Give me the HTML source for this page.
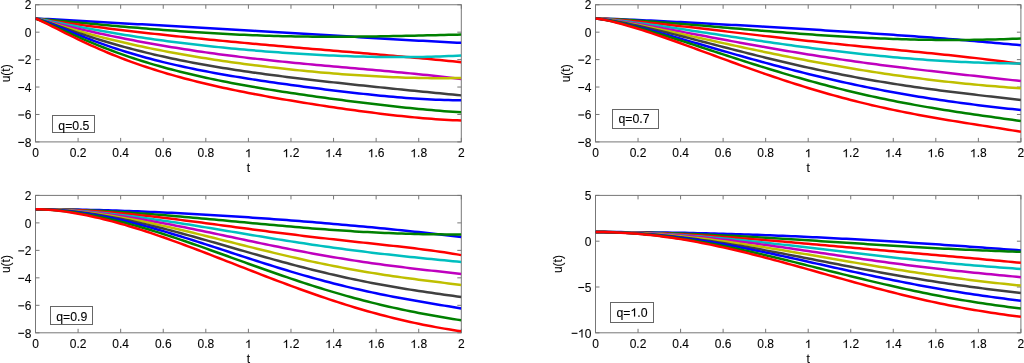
<!DOCTYPE html>
<html><head><meta charset="utf-8"><style>
html,body{margin:0;padding:0;background:#fff;}
svg{display:block;will-change:transform;}
text{font-family:"Liberation Sans",sans-serif;font-size:12px;fill:#000;stroke:#000;stroke-width:0.1px;}
.one{stroke:#000;stroke-width:17px;}
</style></head><body>
<svg width="1024" height="363" viewBox="0 0 1024 363">
<clipPath id="clipA"><rect x="35.5" y="4.75" width="425.8" height="137.15"/></clipPath>
<rect x="35.5" y="4.75" width="425.8" height="137.15" fill="none" stroke="#777777" stroke-width="1"/>
<path d="M35.5,141.9v-4M35.5,4.75v4M78.08,141.9v-4M78.08,4.75v4M120.66,141.9v-4M120.66,4.75v4M163.24,141.9v-4M163.24,4.75v4M205.82,141.9v-4M205.82,4.75v4M248.4,141.9v-4M248.4,4.75v4M290.98,141.9v-4M290.98,4.75v4M333.56,141.9v-4M333.56,4.75v4M376.14,141.9v-4M376.14,4.75v4M418.72,141.9v-4M418.72,4.75v4M461.3,141.9v-4M461.3,4.75v4M35.5,4.75h4M461.3,4.75h-4M35.5,32.18h4M461.3,32.18h-4M35.5,59.61h4M461.3,59.61h-4M35.5,87.04h4M461.3,87.04h-4M35.5,114.47h4M461.3,114.47h-4M35.5,141.9h4M461.3,141.9h-4" stroke="#777777" stroke-width="1" fill="none"/>
<g clip-path="url(#clipA)" fill="none" stroke-width="2.5" stroke-linejoin="round" stroke-linecap="butt">
<path d="M35.5,18.47 39.76,18.66 44.02,18.88 48.27,19.1 52.53,19.33 56.79,19.56 61.05,19.8 65.31,20.04 69.56,20.28 73.82,20.52 78.08,20.76 82.34,21 86.6,21.24 90.85,21.48 95.11,21.73 99.37,21.97 103.63,22.21 107.89,22.45 112.14,22.69 116.4,22.93 120.66,23.17 124.92,23.41 129.18,23.65 133.43,23.89 137.69,24.13 141.95,24.37 146.21,24.61 150.47,24.84 154.72,25.08 158.98,25.32 163.24,25.56 167.5,25.8 171.76,26.04 176.01,26.28 180.27,26.52 184.53,26.76 188.79,27 193.05,27.25 197.3,27.49 201.56,27.73 205.82,27.97 210.08,28.22 214.34,28.46 218.59,28.71 222.85,28.95 227.11,29.2 231.37,29.45 235.63,29.7 239.88,29.94 244.14,30.19 248.4,30.44 252.66,30.69 256.92,30.95 261.17,31.2 265.43,31.45 269.69,31.71 273.95,31.96 278.21,32.21 282.46,32.47 286.72,32.73 290.98,32.98 295.24,33.24 299.5,33.5 303.75,33.76 308.01,34.02 312.27,34.27 316.53,34.53 320.79,34.79 325.04,35.05 329.3,35.31 333.56,35.57 337.82,35.83 342.08,36.09 346.33,36.35 350.59,36.61 354.85,36.87 359.11,37.13 363.37,37.39 367.62,37.64 371.88,37.9 376.14,38.15 380.4,38.41 384.66,38.66 388.91,38.91 393.17,39.16 397.43,39.41 401.69,39.66 405.95,39.9 410.2,40.15 414.46,40.39 418.72,40.63 422.98,40.86 427.24,41.1 431.49,41.33 435.75,41.56 440.01,41.78 444.27,42 448.53,42.22 452.78,42.43 457.04,42.64 461.3,42.85" stroke="#0000ff"/>
<path d="M35.5,18.47 39.76,18.92 44.02,19.34 48.27,19.76 52.53,20.16 56.79,20.57 61.05,20.97 65.31,21.36 69.56,21.76 73.82,22.16 78.08,22.55 82.34,22.94 86.6,23.33 90.85,23.72 95.11,24.11 99.37,24.5 103.63,24.88 107.89,25.26 112.14,25.64 116.4,26.02 120.66,26.39 124.92,26.76 129.18,27.13 133.43,27.5 137.69,27.85 141.95,28.21 146.21,28.56 150.47,28.91 154.72,29.25 158.98,29.58 163.24,29.91 167.5,30.24 171.76,30.56 176.01,30.87 180.27,31.17 184.53,31.47 188.79,31.77 193.05,32.05 197.3,32.33 201.56,32.6 205.82,32.86 210.08,33.11 214.34,33.36 218.59,33.6 222.85,33.83 227.11,34.05 231.37,34.26 235.63,34.47 239.88,34.66 244.14,34.85 248.4,35.03 252.66,35.2 256.92,35.36 261.17,35.51 265.43,35.66 269.69,35.79 273.95,35.91 278.21,36.03 282.46,36.14 286.72,36.23 290.98,36.32 295.24,36.4 299.5,36.47 303.75,36.54 308.01,36.59 312.27,36.64 316.53,36.67 320.79,36.7 325.04,36.72 329.3,36.74 333.56,36.74 337.82,36.74 342.08,36.73 346.33,36.71 350.59,36.69 354.85,36.66 359.11,36.62 363.37,36.57 367.62,36.52 371.88,36.47 376.14,36.41 380.4,36.34 384.66,36.27 388.91,36.19 393.17,36.11 397.43,36.02 401.69,35.94 405.95,35.84 410.2,35.75 414.46,35.65 418.72,35.55 422.98,35.45 427.24,35.35 431.49,35.24 435.75,35.14 440.01,35.04 444.27,34.93 448.53,34.83 452.78,34.73 457.04,34.63 461.3,34.54" stroke="#008000"/>
<path d="M35.5,18.47 39.76,19.13 44.02,19.78 48.27,20.41 52.53,21.03 56.79,21.64 61.05,22.24 65.31,22.83 69.56,23.42 73.82,24 78.08,24.57 82.34,25.13 86.6,25.69 90.85,26.24 95.11,26.79 99.37,27.33 103.63,27.86 107.89,28.39 112.14,28.92 116.4,29.43 120.66,29.95 124.92,30.45 129.18,30.96 133.43,31.45 137.69,31.95 141.95,32.44 146.21,32.92 150.47,33.4 154.72,33.87 158.98,34.34 163.24,34.8 167.5,35.26 171.76,35.72 176.01,36.17 180.27,36.62 184.53,37.06 188.79,37.5 193.05,37.94 197.3,38.37 201.56,38.8 205.82,39.22 210.08,39.64 214.34,40.06 218.59,40.47 222.85,40.88 227.11,41.29 231.37,41.69 235.63,42.09 239.88,42.49 244.14,42.88 248.4,43.27 252.66,43.66 256.92,44.05 261.17,44.43 265.43,44.81 269.69,45.19 273.95,45.57 278.21,45.94 282.46,46.31 286.72,46.68 290.98,47.05 295.24,47.42 299.5,47.78 303.75,48.15 308.01,48.51 312.27,48.88 316.53,49.24 320.79,49.6 325.04,49.96 329.3,50.32 333.56,50.68 337.82,51.04 342.08,51.39 346.33,51.75 350.59,52.11 354.85,52.47 359.11,52.84 363.37,53.2 367.62,53.56 371.88,53.93 376.14,54.29 380.4,54.66 384.66,55.03 388.91,55.4 393.17,55.77 397.43,56.15 401.69,56.53 405.95,56.91 410.2,57.29 414.46,57.68 418.72,58.07 422.98,58.47 427.24,58.86 431.49,59.27 435.75,59.67 440.01,60.09 444.27,60.5 448.53,60.92 452.78,61.35 457.04,61.78 461.3,62.22" stroke="#ff0000"/>
<path d="M35.5,18.47 39.76,19.18 44.02,19.97 48.27,20.79 52.53,21.62 56.79,22.46 61.05,23.3 65.31,24.14 69.56,24.97 73.82,25.8 78.08,26.62 82.34,27.43 86.6,28.23 90.85,29.02 95.11,29.79 99.37,30.56 103.63,31.31 107.89,32.05 112.14,32.78 116.4,33.5 120.66,34.2 124.92,34.9 129.18,35.58 133.43,36.24 137.69,36.9 141.95,37.54 146.21,38.17 150.47,38.79 154.72,39.39 158.98,39.98 163.24,40.57 167.5,41.14 171.76,41.7 176.01,42.24 180.27,42.78 184.53,43.31 188.79,43.82 193.05,44.33 197.3,44.82 201.56,45.3 205.82,45.78 210.08,46.24 214.34,46.69 218.59,47.13 222.85,47.57 227.11,47.99 231.37,48.41 235.63,48.81 239.88,49.21 244.14,49.59 248.4,49.97 252.66,50.34 256.92,50.69 261.17,51.04 265.43,51.38 269.69,51.72 273.95,52.04 278.21,52.35 282.46,52.66 286.72,52.95 290.98,53.24 295.24,53.51 299.5,53.78 303.75,54.04 308.01,54.29 312.27,54.53 316.53,54.76 320.79,54.98 325.04,55.19 329.3,55.39 333.56,55.58 337.82,55.76 342.08,55.93 346.33,56.09 350.59,56.24 354.85,56.38 359.11,56.51 363.37,56.62 367.62,56.73 371.88,56.82 376.14,56.9 380.4,56.97 384.66,57.02 388.91,57.06 393.17,57.09 397.43,57.11 401.69,57.11 405.95,57.1 410.2,57.07 414.46,57.02 418.72,56.97 422.98,56.89 427.24,56.8 431.49,56.69 435.75,56.57 440.01,56.43 444.27,56.27 448.53,56.09 452.78,55.89 457.04,55.68 461.3,55.44" stroke="#00bfbf"/>
<path d="M35.5,18.47 39.76,19.53 44.02,20.59 48.27,21.64 52.53,22.68 56.79,23.72 61.05,24.74 65.31,25.75 69.56,26.75 73.82,27.74 78.08,28.72 82.34,29.68 86.6,30.64 90.85,31.58 95.11,32.51 99.37,33.43 103.63,34.34 107.89,35.24 112.14,36.12 116.4,36.99 120.66,37.85 124.92,38.69 129.18,39.52 133.43,40.34 137.69,41.15 141.95,41.94 146.21,42.73 150.47,43.5 154.72,44.25 158.98,45 163.24,45.73 167.5,46.45 171.76,47.15 176.01,47.85 180.27,48.53 184.53,49.2 188.79,49.86 193.05,50.51 197.3,51.14 201.56,51.76 205.82,52.37 210.08,52.97 214.34,53.56 218.59,54.14 222.85,54.71 227.11,55.26 231.37,55.81 235.63,56.34 239.88,56.87 244.14,57.38 248.4,57.89 252.66,58.39 256.92,58.87 261.17,59.35 265.43,59.82 269.69,60.29 273.95,60.74 278.21,61.19 282.46,61.63 286.72,62.06 290.98,62.48 295.24,62.9 299.5,63.32 303.75,63.72 308.01,64.13 312.27,64.53 316.53,64.92 320.79,65.31 325.04,65.69 329.3,66.08 333.56,66.46 337.82,66.83 342.08,67.21 346.33,67.58 350.59,67.96 354.85,68.33 359.11,68.7 363.37,69.08 367.62,69.45 371.88,69.83 376.14,70.2 380.4,70.58 384.66,70.97 388.91,71.36 393.17,71.75 397.43,72.14 401.69,72.55 405.95,72.95 410.2,73.37 414.46,73.79 418.72,74.22 422.98,74.66 427.24,75.1 431.49,75.56 435.75,76.03 440.01,76.5 444.27,76.99 448.53,77.5 452.78,78.01 457.04,78.54 461.3,79.08" stroke="#bf00bf"/>
<path d="M35.5,18.47 39.76,19.66 44.02,20.92 48.27,22.19 52.53,23.46 56.79,24.73 61.05,25.99 65.31,27.23 69.56,28.46 73.82,29.68 78.08,30.88 82.34,32.06 86.6,33.22 90.85,34.36 95.11,35.49 99.37,36.59 103.63,37.67 107.89,38.74 112.14,39.78 116.4,40.81 120.66,41.82 124.92,42.8 129.18,43.77 133.43,44.72 137.69,45.66 141.95,46.57 146.21,47.47 150.47,48.35 154.72,49.21 158.98,50.06 163.24,50.89 167.5,51.7 171.76,52.5 176.01,53.28 180.27,54.05 184.53,54.8 188.79,55.54 193.05,56.26 197.3,56.97 201.56,57.67 205.82,58.35 210.08,59.02 214.34,59.67 218.59,60.32 222.85,60.95 227.11,61.57 231.37,62.17 235.63,62.77 239.88,63.35 244.14,63.92 248.4,64.48 252.66,65.03 256.92,65.57 261.17,66.1 265.43,66.61 269.69,67.12 273.95,67.61 278.21,68.1 282.46,68.57 286.72,69.04 290.98,69.49 295.24,69.94 299.5,70.37 303.75,70.79 308.01,71.21 312.27,71.61 316.53,72 320.79,72.38 325.04,72.76 329.3,73.12 333.56,73.47 337.82,73.81 342.08,74.14 346.33,74.45 350.59,74.76 354.85,75.06 359.11,75.34 363.37,75.61 367.62,75.87 371.88,76.12 376.14,76.36 380.4,76.58 384.66,76.79 388.91,76.99 393.17,77.17 397.43,77.34 401.69,77.49 405.95,77.63 410.2,77.76 414.46,77.87 418.72,77.97 422.98,78.05 427.24,78.11 431.49,78.15 435.75,78.18 440.01,78.19 444.27,78.18 448.53,78.16 452.78,78.11 457.04,78.04 461.3,77.96" stroke="#bfbf00"/>
<path d="M35.5,18.47 39.76,19.7 44.02,21.09 48.27,22.53 52.53,24 56.79,25.49 61.05,26.97 65.31,28.46 69.56,29.93 73.82,31.39 78.08,32.83 82.34,34.25 86.6,35.65 90.85,37.02 95.11,38.37 99.37,39.7 103.63,41.01 107.89,42.28 112.14,43.54 116.4,44.76 120.66,45.96 124.92,47.14 129.18,48.29 133.43,49.41 137.69,50.51 141.95,51.58 146.21,52.63 150.47,53.66 154.72,54.66 158.98,55.64 163.24,56.59 167.5,57.53 171.76,58.44 176.01,59.33 180.27,60.2 184.53,61.05 188.79,61.88 193.05,62.7 197.3,63.49 201.56,64.27 205.82,65.03 210.08,65.77 214.34,66.5 218.59,67.21 222.85,67.9 227.11,68.59 231.37,69.25 235.63,69.91 239.88,70.55 244.14,71.18 248.4,71.8 252.66,72.41 256.92,73 261.17,73.59 265.43,74.16 269.69,74.73 273.95,75.29 278.21,75.84 282.46,76.38 286.72,76.91 290.98,77.44 295.24,77.96 299.5,78.47 303.75,78.98 308.01,79.48 312.27,79.97 316.53,80.47 320.79,80.95 325.04,81.43 329.3,81.91 333.56,82.38 337.82,82.85 342.08,83.32 346.33,83.78 350.59,84.24 354.85,84.7 359.11,85.15 363.37,85.6 367.62,86.05 371.88,86.5 376.14,86.94 380.4,87.38 384.66,87.82 388.91,88.26 393.17,88.7 397.43,89.13 401.69,89.56 405.95,89.99 410.2,90.42 414.46,90.85 418.72,91.27 422.98,91.69 427.24,92.11 431.49,92.53 435.75,92.94 440.01,93.36 444.27,93.77 448.53,94.17 452.78,94.58 457.04,94.98 461.3,95.37" stroke="#404040"/>
<path d="M35.5,18.47 39.76,19.66 44.02,21.14 48.27,22.76 52.53,24.44 56.79,26.16 61.05,27.9 65.31,29.64 69.56,31.37 73.82,33.09 78.08,34.79 82.34,36.47 86.6,38.11 90.85,39.73 95.11,41.32 99.37,42.87 103.63,44.39 107.89,45.88 112.14,47.32 116.4,48.74 120.66,50.12 124.92,51.46 129.18,52.77 133.43,54.05 137.69,55.29 141.95,56.5 146.21,57.68 150.47,58.83 154.72,59.95 158.98,61.03 163.24,62.09 167.5,63.12 171.76,64.13 176.01,65.11 180.27,66.06 184.53,66.99 188.79,67.9 193.05,68.79 197.3,69.65 201.56,70.49 205.82,71.32 210.08,72.13 214.34,72.91 218.59,73.69 222.85,74.44 227.11,75.18 231.37,75.91 235.63,76.63 239.88,77.33 244.14,78.01 248.4,78.69 252.66,79.36 256.92,80.01 261.17,80.66 265.43,81.29 269.69,81.92 273.95,82.54 278.21,83.15 282.46,83.75 286.72,84.35 290.98,84.93 295.24,85.51 299.5,86.09 303.75,86.66 308.01,87.22 312.27,87.77 316.53,88.32 320.79,88.86 325.04,89.4 329.3,89.93 333.56,90.45 337.82,90.96 342.08,91.47 346.33,91.97 350.59,92.46 354.85,92.94 359.11,93.42 363.37,93.88 367.62,94.34 371.88,94.79 376.14,95.22 380.4,95.64 384.66,96.06 388.91,96.45 393.17,96.84 397.43,97.21 401.69,97.56 405.95,97.9 410.2,98.22 414.46,98.52 418.72,98.8 422.98,99.06 427.24,99.3 431.49,99.52 435.75,99.71 440.01,99.87 444.27,100.01 448.53,100.12 452.78,100.2 457.04,100.25 461.3,100.26" stroke="#0000ff"/>
<path d="M35.5,18.47 39.76,20 44.02,21.76 48.27,23.62 52.53,25.52 56.79,27.44 61.05,29.37 65.31,31.3 69.56,33.21 73.82,35.1 78.08,36.97 82.34,38.81 86.6,40.62 90.85,42.4 95.11,44.14 99.37,45.85 103.63,47.52 107.89,49.16 112.14,50.76 116.4,52.33 120.66,53.85 124.92,55.35 129.18,56.81 133.43,58.23 137.69,59.62 141.95,60.97 146.21,62.29 150.47,63.58 154.72,64.83 158.98,66.06 163.24,67.25 167.5,68.42 171.76,69.55 176.01,70.66 180.27,71.74 184.53,72.8 188.79,73.83 193.05,74.83 197.3,75.81 201.56,76.77 205.82,77.71 210.08,78.62 214.34,79.52 218.59,80.39 222.85,81.25 227.11,82.09 231.37,82.91 235.63,83.71 239.88,84.5 244.14,85.27 248.4,86.03 252.66,86.78 256.92,87.51 261.17,88.23 265.43,88.93 269.69,89.63 273.95,90.31 278.21,90.99 282.46,91.65 286.72,92.31 290.98,92.95 295.24,93.59 299.5,94.22 303.75,94.84 308.01,95.45 312.27,96.06 316.53,96.65 320.79,97.25 325.04,97.83 329.3,98.41 333.56,98.98 337.82,99.54 342.08,100.1 346.33,100.65 350.59,101.2 354.85,101.74 359.11,102.27 363.37,102.79 367.62,103.31 371.88,103.82 376.14,104.33 380.4,104.83 384.66,105.32 388.91,105.8 393.17,106.27 397.43,106.74 401.69,107.19 405.95,107.64 410.2,108.08 414.46,108.5 418.72,108.92 422.98,109.32 427.24,109.71 431.49,110.09 435.75,110.46 440.01,110.81 444.27,111.15 448.53,111.47 452.78,111.77 457.04,112.06 461.3,112.32" stroke="#008000"/>
<path d="M35.5,18.47 39.76,20.26 44.02,22.29 48.27,24.4 52.53,26.55 56.79,28.71 61.05,30.88 65.31,33.03 69.56,35.15 73.82,37.25 78.08,39.32 82.34,41.36 86.6,43.35 90.85,45.31 95.11,47.23 99.37,49.1 103.63,50.94 107.89,52.73 112.14,54.48 116.4,56.19 120.66,57.86 124.92,59.48 129.18,61.07 133.43,62.62 137.69,64.13 141.95,65.6 146.21,67.03 150.47,68.43 154.72,69.8 158.98,71.13 163.24,72.42 167.5,73.69 171.76,74.92 176.01,76.12 180.27,77.3 184.53,78.44 188.79,79.56 193.05,80.66 197.3,81.72 201.56,82.77 205.82,83.79 210.08,84.79 214.34,85.76 218.59,86.72 222.85,87.66 227.11,88.58 231.37,89.48 235.63,90.36 239.88,91.23 244.14,92.08 248.4,92.92 252.66,93.74 256.92,94.55 261.17,95.35 265.43,96.13 269.69,96.9 273.95,97.66 278.21,98.41 282.46,99.15 286.72,99.88 290.98,100.6 295.24,101.31 299.5,102.01 303.75,102.7 308.01,103.39 312.27,104.06 316.53,104.73 320.79,105.38 325.04,106.03 329.3,106.67 333.56,107.31 337.82,107.93 342.08,108.55 346.33,109.15 350.59,109.75 354.85,110.34 359.11,110.92 363.37,111.49 367.62,112.05 371.88,112.6 376.14,113.13 380.4,113.66 384.66,114.17 388.91,114.68 393.17,115.16 397.43,115.64 401.69,116.1 405.95,116.54 410.2,116.97 414.46,117.38 418.72,117.77 422.98,118.14 427.24,118.5 431.49,118.83 435.75,119.14 440.01,119.42 444.27,119.69 448.53,119.92 452.78,120.13 457.04,120.31 461.3,120.47" stroke="#ff0000"/>
</g>
<text x="32.16" y="157.2">0</text>
<text x="69.74" y="157.2">0.2</text>
<text x="112.32" y="157.2">0.4</text>
<text x="154.9" y="157.2">0.6</text>
<text x="197.48" y="157.2">0.8</text>
<path class="one" d="M763 0L583 0L583 1100Q518 1040 412 980Q296 918 195 886L195 1055Q360 1125 485 1222Q597 1318 644 1409L763 1409Z" transform="translate(245.06,157.2) scale(0.005859,-0.005859)"/>
<path class="one" d="M763 0L583 0L583 1100Q518 1040 412 980Q296 918 195 886L195 1055Q360 1125 485 1222Q597 1318 644 1409L763 1409Z" transform="translate(282.64,157.2) scale(0.005859,-0.005859)"/><text x="289.31" y="157.2">.2</text>
<path class="one" d="M763 0L583 0L583 1100Q518 1040 412 980Q296 918 195 886L195 1055Q360 1125 485 1222Q597 1318 644 1409L763 1409Z" transform="translate(325.22,157.2) scale(0.005859,-0.005859)"/><text x="331.89" y="157.2">.4</text>
<path class="one" d="M763 0L583 0L583 1100Q518 1040 412 980Q296 918 195 886L195 1055Q360 1125 485 1222Q597 1318 644 1409L763 1409Z" transform="translate(367.8,157.2) scale(0.005859,-0.005859)"/><text x="374.47" y="157.2">.6</text>
<path class="one" d="M763 0L583 0L583 1100Q518 1040 412 980Q296 918 195 886L195 1055Q360 1125 485 1222Q597 1318 644 1409L763 1409Z" transform="translate(410.38,157.2) scale(0.005859,-0.005859)"/><text x="417.05" y="157.2">.8</text>
<text x="457.96" y="157.2">2</text>
<text x="24.73" y="9.45">2</text>
<text x="24.73" y="36.88">0</text>
<rect x="18.31" y="59.57" width="5.83" height="1.1"/><text x="24.73" y="64.31">2</text>
<rect x="18.31" y="87" width="5.83" height="1.1"/><text x="24.73" y="91.74">4</text>
<rect x="18.31" y="114.43" width="5.83" height="1.1"/><text x="24.73" y="119.17">6</text>
<rect x="18.31" y="141.86" width="5.83" height="1.1"/><text x="24.73" y="146.6">8</text>
<text x="248.4" y="171.9" text-anchor="middle">t</text>
<text x="10.3" y="73.33" text-anchor="middle" transform="rotate(-90 10.3 73.33)">u(t)</text>
<rect x="52.5" y="115.5" width="42.0" height="17.0" fill="#fff" stroke="#666" stroke-width="1"/>
<text x="58.3" y="130" style="font-size:12.3px">q=0.5</text>
<clipPath id="clipB"><rect x="595.5" y="4.75" width="425.4" height="137.15"/></clipPath>
<rect x="595.5" y="4.75" width="425.4" height="137.15" fill="none" stroke="#777777" stroke-width="1"/>
<path d="M595.5,141.9v-4M595.5,4.75v4M638.04,141.9v-4M638.04,4.75v4M680.58,141.9v-4M680.58,4.75v4M723.12,141.9v-4M723.12,4.75v4M765.66,141.9v-4M765.66,4.75v4M808.2,141.9v-4M808.2,4.75v4M850.74,141.9v-4M850.74,4.75v4M893.28,141.9v-4M893.28,4.75v4M935.82,141.9v-4M935.82,4.75v4M978.36,141.9v-4M978.36,4.75v4M1020.9,141.9v-4M1020.9,4.75v4M595.5,4.75h4M1020.9,4.75h-4M595.5,32.18h4M1020.9,32.18h-4M595.5,59.61h4M1020.9,59.61h-4M595.5,87.04h4M1020.9,87.04h-4M595.5,114.47h4M1020.9,114.47h-4M595.5,141.9h4M1020.9,141.9h-4" stroke="#777777" stroke-width="1" fill="none"/>
<g clip-path="url(#clipB)" fill="none" stroke-width="2.5" stroke-linejoin="round" stroke-linecap="butt">
<path d="M595.5,18.47 599.75,18.55 604.01,18.66 608.26,18.8 612.52,18.95 616.77,19.11 621.02,19.28 625.28,19.46 629.53,19.64 633.79,19.82 638.04,20.02 642.29,20.21 646.55,20.41 650.8,20.62 655.06,20.82 659.31,21.03 663.56,21.25 667.82,21.46 672.07,21.68 676.33,21.9 680.58,22.12 684.83,22.34 689.09,22.56 693.34,22.79 697.6,23.02 701.85,23.24 706.1,23.47 710.36,23.71 714.61,23.94 718.87,24.17 723.12,24.41 727.37,24.64 731.63,24.88 735.88,25.12 740.14,25.36 744.39,25.6 748.64,25.84 752.9,26.08 757.15,26.33 761.41,26.57 765.66,26.82 769.91,27.06 774.17,27.31 778.42,27.56 782.68,27.81 786.93,28.06 791.18,28.31 795.44,28.57 799.69,28.82 803.95,29.08 808.2,29.33 812.45,29.59 816.71,29.85 820.96,30.11 825.22,30.38 829.47,30.64 833.72,30.91 837.98,31.18 842.23,31.45 846.49,31.72 850.74,31.99 854.99,32.27 859.25,32.54 863.5,32.82 867.76,33.1 872.01,33.39 876.26,33.67 880.52,33.96 884.77,34.25 889.03,34.54 893.28,34.84 897.53,35.13 901.79,35.44 906.04,35.74 910.3,36.04 914.55,36.35 918.8,36.66 923.06,36.98 927.31,37.3 931.57,37.62 935.82,37.94 940.07,38.27 944.33,38.6 948.58,38.94 952.84,39.28 957.09,39.62 961.34,39.96 965.6,40.31 969.85,40.67 974.11,41.03 978.36,41.39 982.61,41.76 986.87,42.13 991.12,42.5 995.38,42.89 999.63,43.27 1003.88,43.66 1008.14,44.06 1012.39,44.46 1016.65,44.86 1020.9,45.28" stroke="#0000ff"/>
<path d="M595.5,18.47 599.75,18.57 604.01,18.73 608.26,18.91 612.52,19.11 616.77,19.33 621.02,19.57 625.28,19.82 629.53,20.08 633.79,20.35 638.04,20.63 642.29,20.92 646.55,21.22 650.8,21.53 655.06,21.84 659.31,22.16 663.56,22.48 667.82,22.81 672.07,23.15 676.33,23.49 680.58,23.83 684.83,24.18 689.09,24.53 693.34,24.89 697.6,25.24 701.85,25.6 706.1,25.96 710.36,26.32 714.61,26.69 718.87,27.05 723.12,27.41 727.37,27.78 731.63,28.14 735.88,28.5 740.14,28.87 744.39,29.23 748.64,29.59 752.9,29.94 757.15,30.3 761.41,30.65 765.66,31 769.91,31.35 774.17,31.69 778.42,32.03 782.68,32.37 786.93,32.7 791.18,33.03 795.44,33.35 799.69,33.67 803.95,33.98 808.2,34.29 812.45,34.59 816.71,34.88 820.96,35.17 825.22,35.45 829.47,35.73 833.72,36 837.98,36.26 842.23,36.52 846.49,36.76 850.74,37 854.99,37.24 859.25,37.46 863.5,37.67 867.76,37.88 872.01,38.08 876.26,38.27 880.52,38.45 884.77,38.62 889.03,38.78 893.28,38.93 897.53,39.08 901.79,39.21 906.04,39.33 910.3,39.44 914.55,39.55 918.8,39.64 923.06,39.72 927.31,39.79 931.57,39.85 935.82,39.9 940.07,39.94 944.33,39.97 948.58,39.98 952.84,39.99 957.09,39.98 961.34,39.96 965.6,39.93 969.85,39.89 974.11,39.84 978.36,39.78 982.61,39.7 986.87,39.61 991.12,39.52 995.38,39.41 999.63,39.28 1003.88,39.15 1008.14,39 1012.39,38.84 1016.65,38.67 1020.9,38.49" stroke="#008000"/>
<path d="M595.5,18.47 599.75,18.62 604.01,18.85 608.26,19.12 612.52,19.42 616.77,19.74 621.02,20.08 625.28,20.44 629.53,20.82 633.79,21.21 638.04,21.61 642.29,22.02 646.55,22.45 650.8,22.88 655.06,23.33 659.31,23.78 663.56,24.24 667.82,24.7 672.07,25.18 676.33,25.65 680.58,26.14 684.83,26.62 689.09,27.11 693.34,27.61 697.6,28.1 701.85,28.6 706.1,29.1 710.36,29.6 714.61,30.11 718.87,30.61 723.12,31.11 727.37,31.62 731.63,32.12 735.88,32.63 740.14,33.13 744.39,33.63 748.64,34.13 752.9,34.63 757.15,35.13 761.41,35.62 765.66,36.12 769.91,36.61 774.17,37.1 778.42,37.58 782.68,38.07 786.93,38.55 791.18,39.02 795.44,39.5 799.69,39.97 803.95,40.43 808.2,40.9 812.45,41.36 816.71,41.82 820.96,42.27 825.22,42.72 829.47,43.17 833.72,43.62 837.98,44.06 842.23,44.5 846.49,44.93 850.74,45.37 854.99,45.8 859.25,46.22 863.5,46.65 867.76,47.07 872.01,47.49 876.26,47.91 880.52,48.33 884.77,48.75 889.03,49.17 893.28,49.58 897.53,50 901.79,50.41 906.04,50.83 910.3,51.25 914.55,51.66 918.8,52.08 923.06,52.5 927.31,52.93 931.57,53.35 935.82,53.78 940.07,54.22 944.33,54.65 948.58,55.1 952.84,55.54 957.09,56 961.34,56.46 965.6,56.93 969.85,57.4 974.11,57.88 978.36,58.38 982.61,58.88 986.87,59.39 991.12,59.91 995.38,60.45 999.63,61 1003.88,61.56 1008.14,62.14 1012.39,62.73 1016.65,63.33 1020.9,63.96" stroke="#ff0000"/>
<path d="M595.5,18.47 599.75,18.7 604.01,19.03 608.26,19.42 612.52,19.85 616.77,20.31 621.02,20.8 625.28,21.3 629.53,21.83 633.79,22.37 638.04,22.92 642.29,23.49 646.55,24.07 650.8,24.66 655.06,25.25 659.31,25.86 663.56,26.47 667.82,27.09 672.07,27.71 676.33,28.34 680.58,28.97 684.83,29.61 689.09,30.25 693.34,30.89 697.6,31.53 701.85,32.17 706.1,32.82 710.36,33.46 714.61,34.11 718.87,34.75 723.12,35.39 727.37,36.04 731.63,36.68 735.88,37.32 740.14,37.95 744.39,38.59 748.64,39.22 752.9,39.85 757.15,40.47 761.41,41.09 765.66,41.71 769.91,42.32 774.17,42.93 778.42,43.53 782.68,44.13 786.93,44.72 791.18,45.31 795.44,45.89 799.69,46.47 803.95,47.03 808.2,47.6 812.45,48.15 816.71,48.7 820.96,49.24 825.22,49.77 829.47,50.3 833.72,50.82 837.98,51.33 842.23,51.83 846.49,52.32 850.74,52.81 854.99,53.28 859.25,53.75 863.5,54.21 867.76,54.66 872.01,55.1 876.26,55.53 880.52,55.95 884.77,56.36 889.03,56.76 893.28,57.15 897.53,57.53 901.79,57.9 906.04,58.26 910.3,58.6 914.55,58.94 918.8,59.27 923.06,59.58 927.31,59.88 931.57,60.18 935.82,60.46 940.07,60.73 944.33,60.98 948.58,61.23 952.84,61.46 957.09,61.68 961.34,61.89 965.6,62.09 969.85,62.28 974.11,62.45 978.36,62.61 982.61,62.76 986.87,62.89 991.12,63.01 995.38,63.12 999.63,63.22 1003.88,63.3 1008.14,63.37 1012.39,63.43 1016.65,63.47 1020.9,63.5" stroke="#00bfbf"/>
<path d="M595.5,18.47 599.75,18.75 604.01,19.17 608.26,19.66 612.52,20.2 616.77,20.77 621.02,21.38 625.28,22.01 629.53,22.67 633.79,23.35 638.04,24.04 642.29,24.75 646.55,25.48 650.8,26.21 655.06,26.96 659.31,27.71 663.56,28.48 667.82,29.25 672.07,30.02 676.33,30.8 680.58,31.59 684.83,32.38 689.09,33.17 693.34,33.97 697.6,34.76 701.85,35.56 706.1,36.35 710.36,37.15 714.61,37.94 718.87,38.74 723.12,39.53 727.37,40.32 731.63,41.11 735.88,41.89 740.14,42.67 744.39,43.44 748.64,44.22 752.9,44.98 757.15,45.74 761.41,46.5 765.66,47.25 769.91,48 774.17,48.74 778.42,49.47 782.68,50.2 786.93,50.92 791.18,51.63 795.44,52.34 799.69,53.04 803.95,53.73 808.2,54.41 812.45,55.09 816.71,55.76 820.96,56.42 825.22,57.08 829.47,57.72 833.72,58.36 837.98,58.99 842.23,59.62 846.49,60.23 850.74,60.84 854.99,61.44 859.25,62.04 863.5,62.62 867.76,63.2 872.01,63.77 876.26,64.34 880.52,64.9 884.77,65.45 889.03,65.99 893.28,66.53 897.53,67.06 901.79,67.58 906.04,68.1 910.3,68.62 914.55,69.12 918.8,69.63 923.06,70.12 927.31,70.62 931.57,71.11 935.82,71.59 940.07,72.07 944.33,72.55 948.58,73.03 952.84,73.5 957.09,73.97 961.34,74.44 965.6,74.91 969.85,75.38 974.11,75.84 978.36,76.31 982.61,76.78 986.87,77.25 991.12,77.72 995.38,78.19 999.63,78.67 1003.88,79.15 1008.14,79.63 1012.39,80.12 1016.65,80.61 1020.9,81.11" stroke="#bf00bf"/>
<path d="M595.5,18.47 599.75,18.81 604.01,19.3 608.26,19.88 612.52,20.51 616.77,21.19 621.02,21.9 625.28,22.64 629.53,23.41 633.79,24.21 638.04,25.02 642.29,25.85 646.55,26.69 650.8,27.55 655.06,28.42 659.31,29.3 663.56,30.2 667.82,31.09 672.07,32 676.33,32.91 680.58,33.83 684.83,34.75 689.09,35.67 693.34,36.6 697.6,37.53 701.85,38.46 706.1,39.39 710.36,40.32 714.61,41.25 718.87,42.18 723.12,43.1 727.37,44.03 731.63,44.95 735.88,45.87 740.14,46.78 744.39,47.7 748.64,48.6 752.9,49.5 757.15,50.4 761.41,51.29 765.66,52.18 769.91,53.06 774.17,53.93 778.42,54.8 782.68,55.66 786.93,56.51 791.18,57.36 795.44,58.2 799.69,59.03 803.95,59.85 808.2,60.66 812.45,61.46 816.71,62.26 820.96,63.05 825.22,63.82 829.47,64.59 833.72,65.35 837.98,66.1 842.23,66.84 846.49,67.57 850.74,68.28 854.99,68.99 859.25,69.69 863.5,70.38 867.76,71.06 872.01,71.72 876.26,72.38 880.52,73.02 884.77,73.66 889.03,74.28 893.28,74.89 897.53,75.5 901.79,76.09 906.04,76.67 910.3,77.24 914.55,77.79 918.8,78.34 923.06,78.88 927.31,79.4 931.57,79.92 935.82,80.42 940.07,80.91 944.33,81.4 948.58,81.87 952.84,82.33 957.09,82.78 961.34,83.22 965.6,83.65 969.85,84.07 974.11,84.47 978.36,84.87 982.61,85.26 986.87,85.64 991.12,86.01 995.38,86.37 999.63,86.72 1003.88,87.06 1008.14,87.39 1012.39,87.71 1016.65,88.03 1020.9,88.33" stroke="#bfbf00"/>
<path d="M595.5,18.47 599.75,18.84 604.01,19.38 608.26,20.01 612.52,20.7 616.77,21.45 621.02,22.25 625.28,23.08 629.53,23.95 633.79,24.85 638.04,25.77 642.29,26.72 646.55,27.69 650.8,28.68 655.06,29.68 659.31,30.7 663.56,31.73 667.82,32.78 672.07,33.84 676.33,34.9 680.58,35.98 684.83,37.06 689.09,38.15 693.34,39.24 697.6,40.34 701.85,41.44 706.1,42.54 710.36,43.64 714.61,44.74 718.87,45.84 723.12,46.94 727.37,48.04 731.63,49.13 735.88,50.22 740.14,51.31 744.39,52.39 748.64,53.46 752.9,54.53 757.15,55.59 761.41,56.64 765.66,57.69 769.91,58.73 774.17,59.75 778.42,60.77 782.68,61.78 786.93,62.78 791.18,63.77 795.44,64.75 799.69,65.71 803.95,66.66 808.2,67.61 812.45,68.54 816.71,69.45 820.96,70.36 825.22,71.25 829.47,72.13 833.72,72.99 837.98,73.85 842.23,74.68 846.49,75.51 850.74,76.32 854.99,77.12 859.25,77.9 863.5,78.67 867.76,79.43 872.01,80.18 876.26,80.91 880.52,81.62 884.77,82.33 889.03,83.02 893.28,83.7 897.53,84.37 901.79,85.02 906.04,85.66 910.3,86.29 914.55,86.91 918.8,87.52 923.06,88.12 927.31,88.7 931.57,89.28 935.82,89.85 940.07,90.41 944.33,90.96 948.58,91.5 952.84,92.03 957.09,92.56 961.34,93.08 965.6,93.6 969.85,94.11 974.11,94.61 978.36,95.12 982.61,95.62 986.87,96.12 991.12,96.61 995.38,97.11 999.63,97.6 1003.88,98.1 1008.14,98.6 1012.39,99.1 1016.65,99.61 1020.9,100.12" stroke="#404040"/>
<path d="M595.5,18.47 599.75,18.91 604.01,19.56 608.26,20.31 612.52,21.14 616.77,22.02 621.02,22.96 625.28,23.94 629.53,24.95 633.79,25.99 638.04,27.06 642.29,28.15 646.55,29.27 650.8,30.4 655.06,31.55 659.31,32.71 663.56,33.89 667.82,35.07 672.07,36.27 676.33,37.47 680.58,38.68 684.83,39.9 689.09,41.12 693.34,42.35 697.6,43.57 701.85,44.8 706.1,46.03 710.36,47.26 714.61,48.49 718.87,49.71 723.12,50.94 727.37,52.15 731.63,53.37 735.88,54.58 740.14,55.79 744.39,56.99 748.64,58.18 752.9,59.37 757.15,60.55 761.41,61.72 765.66,62.88 769.91,64.03 774.17,65.18 778.42,66.31 782.68,67.44 786.93,68.55 791.18,69.65 795.44,70.75 799.69,71.83 803.95,72.89 808.2,73.95 812.45,75 816.71,76.03 820.96,77.05 825.22,78.05 829.47,79.04 833.72,80.02 837.98,80.99 842.23,81.94 846.49,82.88 850.74,83.8 854.99,84.71 859.25,85.61 863.5,86.49 867.76,87.36 872.01,88.21 876.26,89.05 880.52,89.88 884.77,90.69 889.03,91.48 893.28,92.27 897.53,93.03 901.79,93.79 906.04,94.53 910.3,95.25 914.55,95.97 918.8,96.67 923.06,97.35 927.31,98.02 931.57,98.68 935.82,99.33 940.07,99.97 944.33,100.59 948.58,101.2 952.84,101.79 957.09,102.38 961.34,102.96 965.6,103.52 969.85,104.07 974.11,104.62 978.36,105.15 982.61,105.67 986.87,106.19 991.12,106.69 995.38,107.19 999.63,107.68 1003.88,108.16 1008.14,108.64 1012.39,109.11 1016.65,109.57 1020.9,110.03" stroke="#0000ff"/>
<path d="M595.5,18.47 599.75,18.93 604.01,19.62 608.26,20.42 612.52,21.3 616.77,22.25 621.02,23.25 625.28,24.31 629.53,25.4 633.79,26.54 638.04,27.7 642.29,28.9 646.55,30.12 650.8,31.37 655.06,32.63 659.31,33.92 663.56,35.22 667.82,36.54 672.07,37.87 676.33,39.22 680.58,40.57 684.83,41.93 689.09,43.3 693.34,44.68 697.6,46.06 701.85,47.44 706.1,48.83 710.36,50.22 714.61,51.6 718.87,52.99 723.12,54.38 727.37,55.76 731.63,57.14 735.88,58.51 740.14,59.88 744.39,61.24 748.64,62.59 752.9,63.94 757.15,65.28 761.41,66.61 765.66,67.93 769.91,69.23 774.17,70.53 778.42,71.82 782.68,73.09 786.93,74.35 791.18,75.6 795.44,76.83 799.69,78.05 803.95,79.26 808.2,80.45 812.45,81.62 816.71,82.78 820.96,83.93 825.22,85.06 829.47,86.17 833.72,87.26 837.98,88.34 842.23,89.4 846.49,90.45 850.74,91.47 854.99,92.48 859.25,93.48 863.5,94.45 867.76,95.41 872.01,96.35 876.26,97.28 880.52,98.19 884.77,99.08 889.03,99.95 893.28,100.81 897.53,101.65 901.79,102.48 906.04,103.29 910.3,104.08 914.55,104.86 918.8,105.63 923.06,106.38 927.31,107.11 931.57,107.84 935.82,108.55 940.07,109.24 944.33,109.93 948.58,110.6 952.84,111.27 957.09,111.92 961.34,112.56 965.6,113.2 969.85,113.82 974.11,114.44 978.36,115.06 982.61,115.66 986.87,116.26 991.12,116.86 995.38,117.46 999.63,118.05 1003.88,118.64 1008.14,119.23 1012.39,119.82 1016.65,120.42 1020.9,121.01" stroke="#008000"/>
<path d="M595.5,18.47 599.75,18.98 604.01,19.75 608.26,20.63 612.52,21.62 616.77,22.68 621.02,23.8 625.28,24.98 629.53,26.21 633.79,27.48 638.04,28.79 642.29,30.13 646.55,31.51 650.8,32.91 655.06,34.34 659.31,35.79 663.56,37.26 667.82,38.75 672.07,40.25 676.33,41.77 680.58,43.3 684.83,44.84 689.09,46.38 693.34,47.94 697.6,49.5 701.85,51.06 706.1,52.63 710.36,54.19 714.61,55.76 718.87,57.32 723.12,58.88 727.37,60.44 731.63,61.99 735.88,63.53 740.14,65.07 744.39,66.6 748.64,68.12 752.9,69.62 757.15,71.12 761.41,72.61 765.66,74.08 769.91,75.54 774.17,76.98 778.42,78.41 782.68,79.83 786.93,81.22 791.18,82.6 795.44,83.97 799.69,85.31 803.95,86.64 808.2,87.95 812.45,89.24 816.71,90.51 820.96,91.76 825.22,92.99 829.47,94.2 833.72,95.39 837.98,96.56 842.23,97.7 846.49,98.83 850.74,99.94 854.99,101.02 859.25,102.09 863.5,103.13 867.76,104.15 872.01,105.16 876.26,106.14 880.52,107.1 884.77,108.05 889.03,108.97 893.28,109.88 897.53,110.76 901.79,111.63 906.04,112.48 910.3,113.32 914.55,114.13 918.8,114.94 923.06,115.72 927.31,116.49 931.57,117.25 935.82,118 940.07,118.73 944.33,119.45 948.58,120.17 952.84,120.87 957.09,121.56 961.34,122.25 965.6,122.93 969.85,123.61 974.11,124.28 978.36,124.95 982.61,125.62 986.87,126.29 991.12,126.96 995.38,127.63 999.63,128.31 1003.88,129 1008.14,129.69 1012.39,130.39 1016.65,131.1 1020.9,131.82" stroke="#ff0000"/>
</g>
<text x="592.16" y="157.2">0</text>
<text x="629.7" y="157.2">0.2</text>
<text x="672.24" y="157.2">0.4</text>
<text x="714.78" y="157.2">0.6</text>
<text x="757.32" y="157.2">0.8</text>
<path class="one" d="M763 0L583 0L583 1100Q518 1040 412 980Q296 918 195 886L195 1055Q360 1125 485 1222Q597 1318 644 1409L763 1409Z" transform="translate(804.86,157.2) scale(0.005859,-0.005859)"/>
<path class="one" d="M763 0L583 0L583 1100Q518 1040 412 980Q296 918 195 886L195 1055Q360 1125 485 1222Q597 1318 644 1409L763 1409Z" transform="translate(842.4,157.2) scale(0.005859,-0.005859)"/><text x="849.07" y="157.2">.2</text>
<path class="one" d="M763 0L583 0L583 1100Q518 1040 412 980Q296 918 195 886L195 1055Q360 1125 485 1222Q597 1318 644 1409L763 1409Z" transform="translate(884.94,157.2) scale(0.005859,-0.005859)"/><text x="891.61" y="157.2">.4</text>
<path class="one" d="M763 0L583 0L583 1100Q518 1040 412 980Q296 918 195 886L195 1055Q360 1125 485 1222Q597 1318 644 1409L763 1409Z" transform="translate(927.48,157.2) scale(0.005859,-0.005859)"/><text x="934.15" y="157.2">.6</text>
<path class="one" d="M763 0L583 0L583 1100Q518 1040 412 980Q296 918 195 886L195 1055Q360 1125 485 1222Q597 1318 644 1409L763 1409Z" transform="translate(970.02,157.2) scale(0.005859,-0.005859)"/><text x="976.69" y="157.2">.8</text>
<text x="1017.56" y="157.2">2</text>
<text x="584.73" y="9.45">2</text>
<text x="584.73" y="36.88">0</text>
<rect x="578.31" y="59.57" width="5.83" height="1.1"/><text x="584.73" y="64.31">2</text>
<rect x="578.31" y="87" width="5.83" height="1.1"/><text x="584.73" y="91.74">4</text>
<rect x="578.31" y="114.43" width="5.83" height="1.1"/><text x="584.73" y="119.17">6</text>
<rect x="578.31" y="141.86" width="5.83" height="1.1"/><text x="584.73" y="146.6">8</text>
<text x="808.2" y="171.9" text-anchor="middle">t</text>
<text x="570.3" y="73.33" text-anchor="middle" transform="rotate(-90 570.3 73.33)">u(t)</text>
<rect x="612.5" y="109.5" width="46.0" height="19.0" fill="#fff" stroke="#666" stroke-width="1"/>
<text x="618.4" y="123.4" style="font-size:12.3px">q=0.7</text>
<clipPath id="clipC"><rect x="35.5" y="195.4" width="425.8" height="137.4"/></clipPath>
<rect x="35.5" y="195.4" width="425.8" height="137.4" fill="none" stroke="#777777" stroke-width="1"/>
<path d="M35.5,332.8v-4M35.5,195.4v4M78.08,332.8v-4M78.08,195.4v4M120.66,332.8v-4M120.66,195.4v4M163.24,332.8v-4M163.24,195.4v4M205.82,332.8v-4M205.82,195.4v4M248.4,332.8v-4M248.4,195.4v4M290.98,332.8v-4M290.98,195.4v4M333.56,332.8v-4M333.56,195.4v4M376.14,332.8v-4M376.14,195.4v4M418.72,332.8v-4M418.72,195.4v4M461.3,332.8v-4M461.3,195.4v4M35.5,195.4h4M461.3,195.4h-4M35.5,222.88h4M461.3,222.88h-4M35.5,250.36h4M461.3,250.36h-4M35.5,277.84h4M461.3,277.84h-4M35.5,305.32h4M461.3,305.32h-4M35.5,332.8h4M461.3,332.8h-4" stroke="#777777" stroke-width="1" fill="none"/>
<g clip-path="url(#clipC)" fill="none" stroke-width="2.5" stroke-linejoin="round" stroke-linecap="butt">
<path d="M35.5,209.14 39.76,209.15 44.02,209.17 48.27,209.2 52.53,209.23 56.79,209.28 61.05,209.33 65.31,209.39 69.56,209.45 73.82,209.53 78.08,209.6 82.34,209.69 86.6,209.78 90.85,209.88 95.11,209.98 99.37,210.09 103.63,210.21 107.89,210.33 112.14,210.46 116.4,210.6 120.66,210.74 124.92,210.88 129.18,211.04 133.43,211.19 137.69,211.36 141.95,211.52 146.21,211.7 150.47,211.88 154.72,212.06 158.98,212.25 163.24,212.45 167.5,212.65 171.76,212.85 176.01,213.06 180.27,213.28 184.53,213.5 188.79,213.72 193.05,213.95 197.3,214.19 201.56,214.42 205.82,214.67 210.08,214.92 214.34,215.17 218.59,215.43 222.85,215.69 227.11,215.95 231.37,216.22 235.63,216.49 239.88,216.77 244.14,217.05 248.4,217.34 252.66,217.63 256.92,217.93 261.17,218.22 265.43,218.53 269.69,218.83 273.95,219.14 278.21,219.46 282.46,219.77 286.72,220.09 290.98,220.42 295.24,220.75 299.5,221.08 303.75,221.42 308.01,221.76 312.27,222.11 316.53,222.45 320.79,222.81 325.04,223.16 329.3,223.52 333.56,223.89 337.82,224.26 342.08,224.63 346.33,225.01 350.59,225.39 354.85,225.77 359.11,226.16 363.37,226.55 367.62,226.95 371.88,227.36 376.14,227.76 380.4,228.17 384.66,228.59 388.91,229.01 393.17,229.44 397.43,229.87 401.69,230.31 405.95,230.75 410.2,231.2 414.46,231.65 418.72,232.11 422.98,232.58 427.24,233.05 431.49,233.53 435.75,234.01 440.01,234.5 444.27,235 448.53,235.5 452.78,236.01 457.04,236.53 461.3,237.06" stroke="#0000ff"/>
<path d="M35.5,209.14 39.76,209.16 44.02,209.19 48.27,209.24 52.53,209.31 56.79,209.39 61.05,209.48 65.31,209.58 69.56,209.7 73.82,209.84 78.08,209.98 82.34,210.14 86.6,210.3 90.85,210.48 95.11,210.68 99.37,210.88 103.63,211.09 107.89,211.32 112.14,211.55 116.4,211.8 120.66,212.05 124.92,212.32 129.18,212.59 133.43,212.88 137.69,213.17 141.95,213.47 146.21,213.78 150.47,214.1 154.72,214.42 158.98,214.75 163.24,215.09 167.5,215.44 171.76,215.79 176.01,216.15 180.27,216.51 184.53,216.88 188.79,217.25 193.05,217.63 197.3,218.01 201.56,218.39 205.82,218.78 210.08,219.17 214.34,219.56 218.59,219.96 222.85,220.36 227.11,220.75 231.37,221.15 235.63,221.55 239.88,221.95 244.14,222.35 248.4,222.75 252.66,223.15 256.92,223.54 261.17,223.93 265.43,224.33 269.69,224.72 273.95,225.1 278.21,225.48 282.46,225.86 286.72,226.24 290.98,226.61 295.24,226.97 299.5,227.33 303.75,227.69 308.01,228.03 312.27,228.38 316.53,228.71 320.79,229.04 325.04,229.36 329.3,229.67 333.56,229.98 337.82,230.28 342.08,230.57 346.33,230.85 350.59,231.12 354.85,231.38 359.11,231.64 363.37,231.88 367.62,232.11 371.88,232.34 376.14,232.55 380.4,232.75 384.66,232.94 388.91,233.12 393.17,233.29 397.43,233.45 401.69,233.59 405.95,233.73 410.2,233.85 414.46,233.96 418.72,234.06 422.98,234.15 427.24,234.22 431.49,234.28 435.75,234.34 440.01,234.37 444.27,234.4 448.53,234.41 452.78,234.41 457.04,234.4 461.3,234.38" stroke="#008000"/>
<path d="M35.5,209.14 39.76,209.16 44.02,209.2 48.27,209.27 52.53,209.35 56.79,209.46 61.05,209.59 65.31,209.73 69.56,209.9 73.82,210.08 78.08,210.29 82.34,210.51 86.6,210.75 90.85,211.01 95.11,211.28 99.37,211.58 103.63,211.89 107.89,212.22 112.14,212.56 116.4,212.92 120.66,213.3 124.92,213.69 129.18,214.09 133.43,214.51 137.69,214.94 141.95,215.39 146.21,215.85 150.47,216.32 154.72,216.79 158.98,217.28 163.24,217.78 167.5,218.29 171.76,218.81 176.01,219.34 180.27,219.87 184.53,220.41 188.79,220.95 193.05,221.5 197.3,222.05 201.56,222.61 205.82,223.17 210.08,223.74 214.34,224.31 218.59,224.88 222.85,225.44 227.11,226.02 231.37,226.59 235.63,227.16 239.88,227.72 244.14,228.29 248.4,228.86 252.66,229.42 256.92,229.98 261.17,230.54 265.43,231.09 269.69,231.65 273.95,232.19 278.21,232.73 282.46,233.27 286.72,233.81 290.98,234.33 295.24,234.86 299.5,235.38 303.75,235.89 308.01,236.4 312.27,236.9 316.53,237.4 320.79,237.9 325.04,238.38 329.3,238.87 333.56,239.35 337.82,239.83 342.08,240.3 346.33,240.77 350.59,241.24 354.85,241.7 359.11,242.16 363.37,242.62 367.62,243.08 371.88,243.55 376.14,244.01 380.4,244.47 384.66,244.94 388.91,245.41 393.17,245.88 397.43,246.36 401.69,246.85 405.95,247.34 410.2,247.84 414.46,248.36 418.72,248.88 422.98,249.42 427.24,249.97 431.49,250.54 435.75,251.13 440.01,251.73 444.27,252.36 448.53,253.01 452.78,253.68 457.04,254.38 461.3,255.11" stroke="#ff0000"/>
<path d="M35.5,209.14 39.76,209.17 44.02,209.25 48.27,209.36 52.53,209.49 56.79,209.66 61.05,209.85 65.31,210.07 69.56,210.32 73.82,210.58 78.08,210.88 82.34,211.19 86.6,211.53 90.85,211.88 95.11,212.26 99.37,212.66 103.63,213.08 107.89,213.52 112.14,213.97 116.4,214.44 120.66,214.93 124.92,215.44 129.18,215.96 133.43,216.5 137.69,217.05 141.95,217.62 146.21,218.2 150.47,218.79 154.72,219.4 158.98,220.01 163.24,220.64 167.5,221.28 171.76,221.93 176.01,222.58 180.27,223.25 184.53,223.92 188.79,224.6 193.05,225.28 197.3,225.97 201.56,226.67 205.82,227.37 210.08,228.07 214.34,228.78 218.59,229.48 222.85,230.2 227.11,230.91 231.37,231.62 235.63,232.34 239.88,233.05 244.14,233.76 248.4,234.47 252.66,235.18 256.92,235.89 261.17,236.59 265.43,237.29 269.69,237.98 273.95,238.68 278.21,239.36 282.46,240.04 286.72,240.72 290.98,241.39 295.24,242.05 299.5,242.71 303.75,243.36 308.01,244 312.27,244.64 316.53,245.26 320.79,245.88 325.04,246.49 329.3,247.1 333.56,247.69 337.82,248.28 342.08,248.85 346.33,249.42 350.59,249.98 354.85,250.53 359.11,251.07 363.37,251.6 367.62,252.12 371.88,252.64 376.14,253.15 380.4,253.64 384.66,254.13 388.91,254.61 393.17,255.09 397.43,255.55 401.69,256.01 405.95,256.47 410.2,256.91 414.46,257.36 418.72,257.79 422.98,258.22 427.24,258.65 431.49,259.07 435.75,259.49 440.01,259.91 444.27,260.33 448.53,260.74 452.78,261.16 457.04,261.57 461.3,261.99" stroke="#00bfbf"/>
<path d="M35.5,209.14 39.76,209.18 44.02,209.26 48.27,209.38 52.53,209.54 56.79,209.74 61.05,209.96 65.31,210.22 69.56,210.51 73.82,210.82 78.08,211.17 82.34,211.54 86.6,211.95 90.85,212.38 95.11,212.84 99.37,213.32 103.63,213.83 107.89,214.36 112.14,214.92 116.4,215.5 120.66,216.11 124.92,216.73 129.18,217.38 133.43,218.05 137.69,218.73 141.95,219.44 146.21,220.16 150.47,220.9 154.72,221.66 158.98,222.43 163.24,223.22 167.5,224.02 171.76,224.83 176.01,225.66 180.27,226.49 184.53,227.34 188.79,228.19 193.05,229.06 197.3,229.93 201.56,230.81 205.82,231.69 210.08,232.58 214.34,233.48 218.59,234.37 222.85,235.27 227.11,236.17 231.37,237.08 235.63,237.98 239.88,238.88 244.14,239.78 248.4,240.68 252.66,241.57 256.92,242.46 261.17,243.35 265.43,244.23 269.69,245.1 273.95,245.97 278.21,246.84 282.46,247.69 286.72,248.54 290.98,249.37 295.24,250.2 299.5,251.02 303.75,251.83 308.01,252.63 312.27,253.41 316.53,254.19 320.79,254.95 325.04,255.7 329.3,256.44 333.56,257.17 337.82,257.89 342.08,258.59 346.33,259.28 350.59,259.95 354.85,260.62 359.11,261.27 363.37,261.91 367.62,262.53 371.88,263.15 376.14,263.75 380.4,264.33 384.66,264.91 388.91,265.48 393.17,266.03 397.43,266.58 401.69,267.11 405.95,267.63 410.2,268.15 414.46,268.66 418.72,269.16 422.98,269.65 427.24,270.14 431.49,270.62 435.75,271.09 440.01,271.57 444.27,272.04 448.53,272.51 452.78,272.98 457.04,273.46 461.3,273.93" stroke="#bf00bf"/>
<path d="M35.5,209.14 39.76,209.18 44.02,209.28 48.27,209.43 52.53,209.61 56.79,209.84 61.05,210.1 65.31,210.41 69.56,210.75 73.82,211.12 78.08,211.53 82.34,211.98 86.6,212.45 90.85,212.96 95.11,213.51 99.37,214.08 103.63,214.68 107.89,215.32 112.14,215.98 116.4,216.67 120.66,217.39 124.92,218.13 129.18,218.9 133.43,219.69 137.69,220.51 141.95,221.35 146.21,222.21 150.47,223.09 154.72,223.99 158.98,224.91 163.24,225.85 167.5,226.8 171.76,227.77 176.01,228.75 180.27,229.75 184.53,230.75 188.79,231.77 193.05,232.8 197.3,233.84 201.56,234.88 205.82,235.93 210.08,236.99 214.34,238.05 218.59,239.12 222.85,240.19 227.11,241.26 231.37,242.33 235.63,243.4 239.88,244.47 244.14,245.53 248.4,246.6 252.66,247.66 256.92,248.71 261.17,249.76 265.43,250.8 269.69,251.83 273.95,252.86 278.21,253.88 282.46,254.88 286.72,255.88 290.98,256.87 295.24,257.84 299.5,258.8 303.75,259.75 308.01,260.68 312.27,261.6 316.53,262.51 320.79,263.4 325.04,264.28 329.3,265.14 333.56,265.99 337.82,266.82 342.08,267.63 346.33,268.43 350.59,269.21 354.85,269.98 359.11,270.73 363.37,271.46 367.62,272.18 371.88,272.88 376.14,273.56 380.4,274.23 384.66,274.89 388.91,275.53 393.17,276.16 397.43,276.77 401.69,277.37 405.95,277.96 410.2,278.54 414.46,279.11 418.72,279.67 422.98,280.22 427.24,280.76 431.49,281.29 435.75,281.82 440.01,282.35 444.27,282.87 448.53,283.39 452.78,283.91 457.04,284.43 461.3,284.96" stroke="#bfbf00"/>
<path d="M35.5,209.14 39.76,209.19 44.02,209.31 48.27,209.49 52.53,209.71 56.79,209.98 61.05,210.3 65.31,210.66 69.56,211.06 73.82,211.51 78.08,211.99 82.34,212.52 86.6,213.08 90.85,213.67 95.11,214.31 99.37,214.98 103.63,215.68 107.89,216.42 112.14,217.19 116.4,217.99 120.66,218.82 124.92,219.68 129.18,220.57 133.43,221.49 137.69,222.43 141.95,223.4 146.21,224.39 150.47,225.4 154.72,226.44 158.98,227.49 163.24,228.57 167.5,229.66 171.76,230.77 176.01,231.9 180.27,233.04 184.53,234.2 188.79,235.36 193.05,236.54 197.3,237.73 201.56,238.93 205.82,240.14 210.08,241.35 214.34,242.57 218.59,243.79 222.85,245.01 227.11,246.24 231.37,247.47 235.63,248.7 239.88,249.93 244.14,251.15 248.4,252.37 252.66,253.59 256.92,254.8 261.17,256.01 265.43,257.21 269.69,258.4 273.95,259.59 278.21,260.76 282.46,261.93 286.72,263.08 290.98,264.22 295.24,265.35 299.5,266.46 303.75,267.56 308.01,268.65 312.27,269.72 316.53,270.78 320.79,271.82 325.04,272.84 329.3,273.85 333.56,274.84 337.82,275.81 342.08,276.77 346.33,277.7 350.59,278.62 354.85,279.52 359.11,280.4 363.37,281.27 367.62,282.11 371.88,282.94 376.14,283.75 380.4,284.54 384.66,285.32 388.91,286.08 393.17,286.82 397.43,287.54 401.69,288.25 405.95,288.94 410.2,289.62 414.46,290.29 418.72,290.94 422.98,291.59 427.24,292.22 431.49,292.84 435.75,293.45 440.01,294.05 444.27,294.65 448.53,295.24 452.78,295.83 457.04,296.41 461.3,297" stroke="#404040"/>
<path d="M35.5,209.14 39.76,209.2 44.02,209.33 48.27,209.52 52.53,209.77 56.79,210.08 61.05,210.43 65.31,210.83 69.56,211.28 73.82,211.78 78.08,212.32 82.34,212.91 86.6,213.55 90.85,214.22 95.11,214.94 99.37,215.7 103.63,216.49 107.89,217.33 112.14,218.2 116.4,219.11 120.66,220.06 124.92,221.04 129.18,222.05 133.43,223.09 137.69,224.17 141.95,225.27 146.21,226.4 150.47,227.55 154.72,228.74 158.98,229.94 163.24,231.17 167.5,232.41 171.76,233.68 176.01,234.97 180.27,236.27 184.53,237.59 188.79,238.92 193.05,240.26 197.3,241.62 201.56,242.98 205.82,244.35 210.08,245.73 214.34,247.12 218.59,248.51 222.85,249.9 227.11,251.29 231.37,252.69 235.63,254.08 239.88,255.47 244.14,256.86 248.4,258.24 252.66,259.62 256.92,260.99 261.17,262.35 265.43,263.71 269.69,265.05 273.95,266.38 278.21,267.7 282.46,269.01 286.72,270.31 290.98,271.59 295.24,272.85 299.5,274.1 303.75,275.33 308.01,276.54 312.27,277.74 316.53,278.92 320.79,280.07 325.04,281.21 329.3,282.33 333.56,283.43 337.82,284.51 342.08,285.57 346.33,286.6 350.59,287.62 354.85,288.62 359.11,289.59 363.37,290.55 367.62,291.48 371.88,292.4 376.14,293.29 380.4,294.17 384.66,295.03 388.91,295.87 393.17,296.69 397.43,297.5 401.69,298.29 405.95,299.07 410.2,299.83 414.46,300.58 418.72,301.32 422.98,302.05 427.24,302.77 431.49,303.49 435.75,304.2 440.01,304.9 444.27,305.61 448.53,306.31 452.78,307.02 457.04,307.73 461.3,308.44" stroke="#0000ff"/>
<path d="M35.5,209.14 39.76,209.21 44.02,209.38 48.27,209.62 52.53,209.92 56.79,210.29 61.05,210.71 65.31,211.19 69.56,211.73 73.82,212.31 78.08,212.95 82.34,213.63 86.6,214.36 90.85,215.14 95.11,215.96 99.37,216.82 103.63,217.73 107.89,218.67 112.14,219.65 116.4,220.67 120.66,221.73 124.92,222.82 129.18,223.95 133.43,225.1 137.69,226.29 141.95,227.51 146.21,228.76 150.47,230.03 154.72,231.33 158.98,232.65 163.24,234 167.5,235.37 171.76,236.76 176.01,238.17 180.27,239.59 184.53,241.03 188.79,242.49 193.05,243.96 197.3,245.44 201.56,246.93 205.82,248.44 210.08,249.95 214.34,251.46 218.59,252.99 222.85,254.52 227.11,256.05 231.37,257.58 235.63,259.12 239.88,260.65 244.14,262.18 248.4,263.71 252.66,265.24 256.92,266.76 261.17,268.27 265.43,269.78 269.69,271.28 273.95,272.77 278.21,274.25 282.46,275.72 286.72,277.17 290.98,278.62 295.24,280.04 299.5,281.46 303.75,282.86 308.01,284.24 312.27,285.6 316.53,286.95 320.79,288.28 325.04,289.59 329.3,290.88 333.56,292.15 337.82,293.4 342.08,294.63 346.33,295.83 350.59,297.02 354.85,298.18 359.11,299.32 363.37,300.44 367.62,301.54 371.88,302.61 376.14,303.66 380.4,304.68 384.66,305.69 388.91,306.67 393.17,307.63 397.43,308.56 401.69,309.48 405.95,310.37 410.2,311.24 414.46,312.09 418.72,312.92 422.98,313.73 427.24,314.52 431.49,315.3 435.75,316.05 440.01,316.79 444.27,317.52 448.53,318.23 452.78,318.92 457.04,319.61 461.3,320.28" stroke="#008000"/>
<path d="M35.5,209.14 39.76,209.23 44.02,209.43 48.27,209.73 52.53,210.1 56.79,210.54 61.05,211.05 65.31,211.62 69.56,212.25 73.82,212.94 78.08,213.69 82.34,214.48 86.6,215.33 90.85,216.22 95.11,217.17 99.37,218.15 103.63,219.18 107.89,220.25 112.14,221.36 116.4,222.51 120.66,223.7 124.92,224.92 129.18,226.18 133.43,227.47 137.69,228.79 141.95,230.14 146.21,231.52 150.47,232.93 154.72,234.36 158.98,235.81 163.24,237.29 167.5,238.79 171.76,240.31 176.01,241.85 180.27,243.4 184.53,244.98 188.79,246.56 193.05,248.16 197.3,249.78 201.56,251.4 205.82,253.03 210.08,254.67 214.34,256.32 218.59,257.98 222.85,259.64 227.11,261.3 231.37,262.96 235.63,264.63 239.88,266.29 244.14,267.96 248.4,269.62 252.66,271.28 256.92,272.93 261.17,274.58 265.43,276.22 269.69,277.86 273.95,279.48 278.21,281.1 282.46,282.7 286.72,284.29 290.98,285.87 295.24,287.44 299.5,288.99 303.75,290.52 308.01,292.04 312.27,293.54 316.53,295.03 320.79,296.49 325.04,297.94 329.3,299.37 333.56,300.77 337.82,302.16 342.08,303.52 346.33,304.86 350.59,306.18 354.85,307.47 359.11,308.74 363.37,309.98 367.62,311.2 371.88,312.4 376.14,313.56 380.4,314.71 384.66,315.82 388.91,316.91 393.17,317.97 397.43,319.01 401.69,320.02 405.95,321 410.2,321.95 414.46,322.88 418.72,323.78 422.98,324.66 427.24,325.5 431.49,326.32 435.75,327.12 440.01,327.88 444.27,328.63 448.53,329.34 452.78,330.03 457.04,330.7 461.3,331.34" stroke="#ff0000"/>
</g>
<text x="32.16" y="348.1">0</text>
<text x="69.74" y="348.1">0.2</text>
<text x="112.32" y="348.1">0.4</text>
<text x="154.9" y="348.1">0.6</text>
<text x="197.48" y="348.1">0.8</text>
<path class="one" d="M763 0L583 0L583 1100Q518 1040 412 980Q296 918 195 886L195 1055Q360 1125 485 1222Q597 1318 644 1409L763 1409Z" transform="translate(245.06,348.1) scale(0.005859,-0.005859)"/>
<path class="one" d="M763 0L583 0L583 1100Q518 1040 412 980Q296 918 195 886L195 1055Q360 1125 485 1222Q597 1318 644 1409L763 1409Z" transform="translate(282.64,348.1) scale(0.005859,-0.005859)"/><text x="289.31" y="348.1">.2</text>
<path class="one" d="M763 0L583 0L583 1100Q518 1040 412 980Q296 918 195 886L195 1055Q360 1125 485 1222Q597 1318 644 1409L763 1409Z" transform="translate(325.22,348.1) scale(0.005859,-0.005859)"/><text x="331.89" y="348.1">.4</text>
<path class="one" d="M763 0L583 0L583 1100Q518 1040 412 980Q296 918 195 886L195 1055Q360 1125 485 1222Q597 1318 644 1409L763 1409Z" transform="translate(367.8,348.1) scale(0.005859,-0.005859)"/><text x="374.47" y="348.1">.6</text>
<path class="one" d="M763 0L583 0L583 1100Q518 1040 412 980Q296 918 195 886L195 1055Q360 1125 485 1222Q597 1318 644 1409L763 1409Z" transform="translate(410.38,348.1) scale(0.005859,-0.005859)"/><text x="417.05" y="348.1">.8</text>
<text x="457.96" y="348.1">2</text>
<text x="24.73" y="200.1">2</text>
<text x="24.73" y="227.58">0</text>
<rect x="18.31" y="250.32" width="5.83" height="1.1"/><text x="24.73" y="255.06">2</text>
<rect x="18.31" y="277.8" width="5.83" height="1.1"/><text x="24.73" y="282.54">4</text>
<rect x="18.31" y="305.28" width="5.83" height="1.1"/><text x="24.73" y="310.02">6</text>
<rect x="18.31" y="332.76" width="5.83" height="1.1"/><text x="24.73" y="337.5">8</text>
<text x="248.4" y="362.8" text-anchor="middle">t</text>
<text x="10.3" y="264.1" text-anchor="middle" transform="rotate(-90 10.3 264.1)">u(t)</text>
<rect x="50.5" y="306.5" width="42.0" height="18.0" fill="#fff" stroke="#666" stroke-width="1"/>
<text x="56.2" y="320.7" style="font-size:12.3px">q=0.9</text>
<clipPath id="clipD"><rect x="595.5" y="195.4" width="425.4" height="137.4"/></clipPath>
<rect x="595.5" y="195.4" width="425.4" height="137.4" fill="none" stroke="#777777" stroke-width="1"/>
<path d="M595.5,332.8v-4M595.5,195.4v4M638.04,332.8v-4M638.04,195.4v4M680.58,332.8v-4M680.58,195.4v4M723.12,332.8v-4M723.12,195.4v4M765.66,332.8v-4M765.66,195.4v4M808.2,332.8v-4M808.2,195.4v4M850.74,332.8v-4M850.74,195.4v4M893.28,332.8v-4M893.28,195.4v4M935.82,332.8v-4M935.82,195.4v4M978.36,332.8v-4M978.36,195.4v4M1020.9,332.8v-4M1020.9,195.4v4M595.5,195.4h4M1020.9,195.4h-4M595.5,241.2h4M1020.9,241.2h-4M595.5,287h4M1020.9,287h-4M595.5,332.8h4M1020.9,332.8h-4" stroke="#777777" stroke-width="1" fill="none"/>
<g clip-path="url(#clipD)" fill="none" stroke-width="2.5" stroke-linejoin="round" stroke-linecap="butt">
<path d="M595.5,232.04 599.75,232.04 604.01,232.05 608.26,232.06 612.52,232.07 616.77,232.08 621.02,232.1 625.28,232.13 629.53,232.15 633.79,232.18 638.04,232.22 642.29,232.26 646.55,232.3 650.8,232.35 655.06,232.4 659.31,232.45 663.56,232.51 667.82,232.57 672.07,232.64 676.33,232.71 680.58,232.78 684.83,232.86 689.09,232.95 693.34,233.03 697.6,233.13 701.85,233.22 706.1,233.32 710.36,233.43 714.61,233.53 718.87,233.65 723.12,233.76 727.37,233.88 731.63,234.01 735.88,234.14 740.14,234.27 744.39,234.41 748.64,234.55 752.9,234.7 757.15,234.85 761.41,235 765.66,235.16 769.91,235.32 774.17,235.48 778.42,235.65 782.68,235.83 786.93,236 791.18,236.19 795.44,236.37 799.69,236.56 803.95,236.75 808.2,236.95 812.45,237.15 816.71,237.35 820.96,237.56 825.22,237.77 829.47,237.98 833.72,238.2 837.98,238.42 842.23,238.64 846.49,238.87 850.74,239.1 854.99,239.33 859.25,239.57 863.5,239.81 867.76,240.05 872.01,240.29 876.26,240.54 880.52,240.79 884.77,241.05 889.03,241.31 893.28,241.57 897.53,241.83 901.79,242.09 906.04,242.36 910.3,242.63 914.55,242.9 918.8,243.18 923.06,243.46 927.31,243.74 931.57,244.02 935.82,244.31 940.07,244.59 944.33,244.88 948.58,245.17 952.84,245.47 957.09,245.76 961.34,246.06 965.6,246.36 969.85,246.66 974.11,246.97 978.36,247.27 982.61,247.58 986.87,247.89 991.12,248.2 995.38,248.51 999.63,248.82 1003.88,249.14 1008.14,249.46 1012.39,249.78 1016.65,250.1 1020.9,250.42" stroke="#0000ff"/>
<path d="M595.5,232.04 599.75,232.04 604.01,232.06 608.26,232.08 612.52,232.11 616.77,232.14 621.02,232.19 625.28,232.24 629.53,232.31 633.79,232.37 638.04,232.45 642.29,232.54 646.55,232.63 650.8,232.73 655.06,232.84 659.31,232.95 663.56,233.07 667.82,233.2 672.07,233.33 676.33,233.48 680.58,233.62 684.83,233.78 689.09,233.94 693.34,234.1 697.6,234.28 701.85,234.46 706.1,234.64 710.36,234.83 714.61,235.02 718.87,235.22 723.12,235.43 727.37,235.64 731.63,235.85 735.88,236.07 740.14,236.3 744.39,236.52 748.64,236.76 752.9,236.99 757.15,237.23 761.41,237.47 765.66,237.72 769.91,237.97 774.17,238.22 778.42,238.47 782.68,238.73 786.93,238.99 791.18,239.25 795.44,239.52 799.69,239.78 803.95,240.05 808.2,240.32 812.45,240.59 816.71,240.86 820.96,241.14 825.22,241.41 829.47,241.68 833.72,241.96 837.98,242.23 842.23,242.51 846.49,242.78 850.74,243.05 854.99,243.33 859.25,243.6 863.5,243.87 867.76,244.14 872.01,244.41 876.26,244.68 880.52,244.95 884.77,245.21 889.03,245.47 893.28,245.73 897.53,245.99 901.79,246.25 906.04,246.5 910.3,246.75 914.55,247 918.8,247.24 923.06,247.48 927.31,247.72 931.57,247.95 935.82,248.18 940.07,248.41 944.33,248.63 948.58,248.85 952.84,249.06 957.09,249.27 961.34,249.48 965.6,249.68 969.85,249.87 974.11,250.06 978.36,250.24 982.61,250.42 986.87,250.6 991.12,250.77 995.38,250.93 999.63,251.08 1003.88,251.23 1008.14,251.38 1012.39,251.52 1016.65,251.65 1020.9,251.78" stroke="#008000"/>
<path d="M595.5,232.04 599.75,232.05 604.01,232.07 608.26,232.1 612.52,232.14 616.77,232.2 621.02,232.26 625.28,232.34 629.53,232.43 633.79,232.54 638.04,232.65 642.29,232.78 646.55,232.91 650.8,233.06 655.06,233.22 659.31,233.38 663.56,233.56 667.82,233.75 672.07,233.94 676.33,234.15 680.58,234.36 684.83,234.59 689.09,234.82 693.34,235.06 697.6,235.31 701.85,235.56 706.1,235.83 710.36,236.1 714.61,236.37 718.87,236.66 723.12,236.95 727.37,237.25 731.63,237.55 735.88,237.86 740.14,238.18 744.39,238.5 748.64,238.82 752.9,239.15 757.15,239.49 761.41,239.83 765.66,240.17 769.91,240.52 774.17,240.87 778.42,241.22 782.68,241.58 786.93,241.94 791.18,242.3 795.44,242.66 799.69,243.03 803.95,243.4 808.2,243.77 812.45,244.14 816.71,244.52 820.96,244.89 825.22,245.27 829.47,245.65 833.72,246.03 837.98,246.41 842.23,246.79 846.49,247.17 850.74,247.55 854.99,247.93 859.25,248.31 863.5,248.69 867.76,249.07 872.01,249.45 876.26,249.83 880.52,250.21 884.77,250.59 889.03,250.96 893.28,251.34 897.53,251.72 901.79,252.1 906.04,252.47 910.3,252.85 914.55,253.22 918.8,253.6 923.06,253.97 927.31,254.35 931.57,254.72 935.82,255.1 940.07,255.47 944.33,255.85 948.58,256.22 952.84,256.6 957.09,256.97 961.34,257.35 965.6,257.73 969.85,258.11 974.11,258.49 978.36,258.87 982.61,259.25 986.87,259.64 991.12,260.03 995.38,260.42 999.63,260.82 1003.88,261.22 1008.14,261.62 1012.39,262.03 1016.65,262.44 1020.9,262.86" stroke="#ff0000"/>
<path d="M595.5,232.04 599.75,232.05 604.01,232.07 608.26,232.11 612.52,232.17 616.77,232.24 621.02,232.32 625.28,232.42 629.53,232.54 633.79,232.67 638.04,232.82 642.29,232.98 646.55,233.15 650.8,233.34 655.06,233.54 659.31,233.76 663.56,233.99 667.82,234.23 672.07,234.48 676.33,234.75 680.58,235.03 684.83,235.32 689.09,235.63 693.34,235.94 697.6,236.27 701.85,236.61 706.1,236.95 710.36,237.31 714.61,237.68 718.87,238.05 723.12,238.44 727.37,238.84 731.63,239.24 735.88,239.65 740.14,240.07 744.39,240.5 748.64,240.93 752.9,241.37 757.15,241.82 761.41,242.27 765.66,242.73 769.91,243.2 774.17,243.67 778.42,244.14 782.68,244.62 786.93,245.1 791.18,245.59 795.44,246.08 799.69,246.57 803.95,247.07 808.2,247.57 812.45,248.06 816.71,248.57 820.96,249.07 825.22,249.57 829.47,250.07 833.72,250.58 837.98,251.08 842.23,251.58 846.49,252.08 850.74,252.58 854.99,253.08 859.25,253.58 863.5,254.07 867.76,254.57 872.01,255.06 876.26,255.54 880.52,256.03 884.77,256.51 889.03,256.98 893.28,257.46 897.53,257.93 901.79,258.39 906.04,258.85 910.3,259.3 914.55,259.75 918.8,260.2 923.06,260.63 927.31,261.07 931.57,261.49 935.82,261.91 940.07,262.33 944.33,262.74 948.58,263.14 952.84,263.53 957.09,263.92 961.34,264.3 965.6,264.68 969.85,265.05 974.11,265.41 978.36,265.76 982.61,266.11 986.87,266.45 991.12,266.79 995.38,267.11 999.63,267.43 1003.88,267.75 1008.14,268.05 1012.39,268.35 1016.65,268.64 1020.9,268.93" stroke="#00bfbf"/>
<path d="M595.5,232.04 599.75,232.05 604.01,232.07 608.26,232.11 612.52,232.17 616.77,232.25 621.02,232.34 625.28,232.45 629.53,232.58 633.79,232.72 638.04,232.88 642.29,233.06 646.55,233.26 650.8,233.48 655.06,233.71 659.31,233.96 663.56,234.22 667.82,234.51 672.07,234.81 676.33,235.13 680.58,235.46 684.83,235.81 689.09,236.17 693.34,236.55 697.6,236.95 701.85,237.36 706.1,237.78 710.36,238.22 714.61,238.68 718.87,239.14 723.12,239.62 727.37,240.11 731.63,240.61 735.88,241.12 740.14,241.65 744.39,242.18 748.64,242.72 752.9,243.28 757.15,243.84 761.41,244.41 765.66,244.99 769.91,245.57 774.17,246.16 778.42,246.76 782.68,247.36 786.93,247.97 791.18,248.58 795.44,249.2 799.69,249.82 803.95,250.44 808.2,251.06 812.45,251.69 816.71,252.31 820.96,252.94 825.22,253.57 829.47,254.19 833.72,254.82 837.98,255.45 842.23,256.07 846.49,256.69 850.74,257.31 854.99,257.92 859.25,258.53 863.5,259.14 867.76,259.74 872.01,260.34 876.26,260.93 880.52,261.51 884.77,262.09 889.03,262.67 893.28,263.24 897.53,263.8 901.79,264.35 906.04,264.9 910.3,265.44 914.55,265.97 918.8,266.5 923.06,267.02 927.31,267.53 931.57,268.03 935.82,268.53 940.07,269.02 944.33,269.5 948.58,269.97 952.84,270.43 957.09,270.89 961.34,271.35 965.6,271.79 969.85,272.23 974.11,272.66 978.36,273.09 982.61,273.52 986.87,273.93 991.12,274.35 995.38,274.76 999.63,275.17 1003.88,275.57 1008.14,275.98 1012.39,276.38 1016.65,276.78 1020.9,277.19" stroke="#bf00bf"/>
<path d="M595.5,232.04 599.75,232.05 604.01,232.08 608.26,232.14 612.52,232.22 616.77,232.32 621.02,232.44 625.28,232.58 629.53,232.74 633.79,232.93 638.04,233.13 642.29,233.36 646.55,233.61 650.8,233.88 655.06,234.17 659.31,234.48 663.56,234.81 667.82,235.15 672.07,235.52 676.33,235.91 680.58,236.31 684.83,236.73 689.09,237.17 693.34,237.63 697.6,238.1 701.85,238.59 706.1,239.09 710.36,239.61 714.61,240.15 718.87,240.7 723.12,241.26 727.37,241.83 731.63,242.42 735.88,243.02 740.14,243.64 744.39,244.26 748.64,244.9 752.9,245.54 757.15,246.2 761.41,246.86 765.66,247.53 769.91,248.21 774.17,248.9 778.42,249.59 782.68,250.29 786.93,251 791.18,251.71 795.44,252.43 799.69,253.15 803.95,253.87 808.2,254.6 812.45,255.33 816.71,256.06 820.96,256.79 825.22,257.52 829.47,258.26 833.72,258.99 837.98,259.72 842.23,260.46 846.49,261.19 850.74,261.91 854.99,262.64 859.25,263.36 863.5,264.08 867.76,264.79 872.01,265.5 876.26,266.21 880.52,266.91 884.77,267.6 889.03,268.29 893.28,268.98 897.53,269.65 901.79,270.32 906.04,270.98 910.3,271.64 914.55,272.28 918.8,272.92 923.06,273.55 927.31,274.17 931.57,274.79 935.82,275.39 940.07,275.99 944.33,276.57 948.58,277.15 952.84,277.72 957.09,278.28 961.34,278.83 965.6,279.37 969.85,279.9 974.11,280.42 978.36,280.93 982.61,281.44 986.87,281.93 991.12,282.42 995.38,282.9 999.63,283.37 1003.88,283.83 1008.14,284.29 1012.39,284.74 1016.65,285.18 1020.9,285.61" stroke="#bfbf00"/>
<path d="M595.5,232.04 599.75,232.05 604.01,232.09 608.26,232.16 612.52,232.26 616.77,232.38 621.02,232.52 625.28,232.7 629.53,232.9 633.79,233.12 638.04,233.37 642.29,233.65 646.55,233.95 650.8,234.27 655.06,234.62 659.31,234.99 663.56,235.38 667.82,235.8 672.07,236.24 676.33,236.7 680.58,237.18 684.83,237.68 689.09,238.21 693.34,238.75 697.6,239.31 701.85,239.89 706.1,240.48 710.36,241.1 714.61,241.73 718.87,242.38 723.12,243.04 727.37,243.71 731.63,244.41 735.88,245.11 740.14,245.83 744.39,246.56 748.64,247.3 752.9,248.05 757.15,248.81 761.41,249.58 765.66,250.36 769.91,251.15 774.17,251.95 778.42,252.75 782.68,253.56 786.93,254.37 791.18,255.19 795.44,256.01 799.69,256.84 803.95,257.67 808.2,258.5 812.45,259.33 816.71,260.17 820.96,261 825.22,261.84 829.47,262.67 833.72,263.5 837.98,264.33 842.23,265.16 846.49,265.98 850.74,266.8 854.99,267.62 859.25,268.43 863.5,269.24 867.76,270.04 872.01,270.83 876.26,271.62 880.52,272.4 884.77,273.17 889.03,273.94 893.28,274.7 897.53,275.45 901.79,276.19 906.04,276.92 910.3,277.64 914.55,278.35 918.8,279.05 923.06,279.75 927.31,280.43 931.57,281.1 935.82,281.76 940.07,282.42 944.33,283.06 948.58,283.69 952.84,284.31 957.09,284.92 961.34,285.52 965.6,286.11 969.85,286.69 974.11,287.26 978.36,287.82 982.61,288.37 986.87,288.91 991.12,289.44 995.38,289.97 999.63,290.48 1003.88,290.99 1008.14,291.49 1012.39,291.99 1016.65,292.48 1020.9,292.97" stroke="#404040"/>
<path d="M595.5,232.04 599.75,232.05 604.01,232.1 608.26,232.17 612.52,232.28 616.77,232.41 621.02,232.57 625.28,232.76 629.53,232.98 633.79,233.23 638.04,233.5 642.29,233.8 646.55,234.13 650.8,234.49 655.06,234.88 659.31,235.29 663.56,235.72 667.82,236.19 672.07,236.67 676.33,237.19 680.58,237.72 684.83,238.28 689.09,238.86 693.34,239.47 697.6,240.09 701.85,240.74 706.1,241.41 710.36,242.09 714.61,242.8 718.87,243.52 723.12,244.27 727.37,245.02 731.63,245.8 735.88,246.59 740.14,247.4 744.39,248.22 748.64,249.05 752.9,249.9 757.15,250.76 761.41,251.63 765.66,252.51 769.91,253.4 774.17,254.3 778.42,255.21 782.68,256.12 786.93,257.04 791.18,257.97 795.44,258.9 799.69,259.84 803.95,260.78 808.2,261.73 812.45,262.67 816.71,263.62 820.96,264.57 825.22,265.52 829.47,266.47 833.72,267.41 837.98,268.36 842.23,269.3 846.49,270.24 850.74,271.18 854.99,272.11 859.25,273.03 863.5,273.95 867.76,274.87 872.01,275.77 876.26,276.67 880.52,277.56 884.77,278.45 889.03,279.32 893.28,280.19 897.53,281.04 901.79,281.89 906.04,282.72 910.3,283.54 914.55,284.36 918.8,285.16 923.06,285.95 927.31,286.72 931.57,287.49 935.82,288.24 940.07,288.98 944.33,289.71 948.58,290.42 952.84,291.13 957.09,291.82 961.34,292.49 965.6,293.16 969.85,293.81 974.11,294.45 978.36,295.07 982.61,295.69 986.87,296.29 991.12,296.88 995.38,297.46 999.63,298.03 1003.88,298.59 1008.14,299.14 1012.39,299.68 1016.65,300.21 1020.9,300.74" stroke="#0000ff"/>
<path d="M595.5,232.04 599.75,232.06 604.01,232.11 608.26,232.19 612.52,232.31 616.77,232.46 621.02,232.65 625.28,232.87 629.53,233.12 633.79,233.4 638.04,233.71 642.29,234.06 646.55,234.44 650.8,234.85 655.06,235.28 659.31,235.75 663.56,236.25 667.82,236.77 672.07,237.33 676.33,237.91 680.58,238.52 684.83,239.15 689.09,239.81 693.34,240.49 697.6,241.2 701.85,241.93 706.1,242.69 710.36,243.47 714.61,244.26 718.87,245.08 723.12,245.92 727.37,246.78 731.63,247.65 735.88,248.55 740.14,249.46 744.39,250.38 748.64,251.32 752.9,252.28 757.15,253.24 761.41,254.22 765.66,255.22 769.91,256.22 774.17,257.23 778.42,258.25 782.68,259.28 786.93,260.32 791.18,261.36 795.44,262.41 799.69,263.47 803.95,264.53 808.2,265.59 812.45,266.65 816.71,267.72 820.96,268.78 825.22,269.85 829.47,270.92 833.72,271.98 837.98,273.04 842.23,274.1 846.49,275.16 850.74,276.21 854.99,277.25 859.25,278.29 863.5,279.32 867.76,280.35 872.01,281.36 876.26,282.37 880.52,283.37 884.77,284.36 889.03,285.33 893.28,286.3 897.53,287.26 901.79,288.2 906.04,289.13 910.3,290.05 914.55,290.95 918.8,291.84 923.06,292.72 927.31,293.58 931.57,294.43 935.82,295.26 940.07,296.07 944.33,296.87 948.58,297.65 952.84,298.42 957.09,299.17 961.34,299.91 965.6,300.63 969.85,301.33 974.11,302.01 978.36,302.68 982.61,303.34 986.87,303.97 991.12,304.59 995.38,305.2 999.63,305.79 1003.88,306.36 1008.14,306.92 1012.39,307.47 1016.65,308 1020.9,308.51" stroke="#008000"/>
<path d="M595.5,232.04 599.75,232.06 604.01,232.11 608.26,232.2 612.52,232.33 616.77,232.5 621.02,232.7 625.28,232.93 629.53,233.21 633.79,233.51 638.04,233.86 642.29,234.24 646.55,234.65 650.8,235.1 655.06,235.58 659.31,236.09 663.56,236.64 667.82,237.21 672.07,237.82 676.33,238.46 680.58,239.13 684.83,239.83 689.09,240.56 693.34,241.32 697.6,242.11 701.85,242.92 706.1,243.76 710.36,244.62 714.61,245.51 718.87,246.42 723.12,247.35 727.37,248.3 731.63,249.28 735.88,250.28 740.14,251.29 744.39,252.32 748.64,253.38 752.9,254.44 757.15,255.52 761.41,256.62 765.66,257.73 769.91,258.85 774.17,259.99 778.42,261.13 782.68,262.29 786.93,263.45 791.18,264.62 795.44,265.8 799.69,266.98 803.95,268.17 808.2,269.36 812.45,270.56 816.71,271.75 820.96,272.95 825.22,274.15 829.47,275.34 833.72,276.54 837.98,277.73 842.23,278.92 846.49,280.1 850.74,281.28 854.99,282.45 859.25,283.61 863.5,284.77 867.76,285.92 872.01,287.05 876.26,288.18 880.52,289.3 884.77,290.4 889.03,291.49 893.28,292.57 897.53,293.64 901.79,294.69 906.04,295.73 910.3,296.75 914.55,297.75 918.8,298.74 923.06,299.71 927.31,300.66 931.57,301.6 935.82,302.52 940.07,303.41 944.33,304.29 948.58,305.16 952.84,306 957.09,306.82 961.34,307.62 965.6,308.41 969.85,309.17 974.11,309.91 978.36,310.64 982.61,311.34 986.87,312.03 991.12,312.69 995.38,313.34 999.63,313.97 1003.88,314.58 1008.14,315.17 1012.39,315.74 1016.65,316.3 1020.9,316.84" stroke="#ff0000"/>
</g>
<text x="592.16" y="348.1">0</text>
<text x="629.7" y="348.1">0.2</text>
<text x="672.24" y="348.1">0.4</text>
<text x="714.78" y="348.1">0.6</text>
<text x="757.32" y="348.1">0.8</text>
<path class="one" d="M763 0L583 0L583 1100Q518 1040 412 980Q296 918 195 886L195 1055Q360 1125 485 1222Q597 1318 644 1409L763 1409Z" transform="translate(804.86,348.1) scale(0.005859,-0.005859)"/>
<path class="one" d="M763 0L583 0L583 1100Q518 1040 412 980Q296 918 195 886L195 1055Q360 1125 485 1222Q597 1318 644 1409L763 1409Z" transform="translate(842.4,348.1) scale(0.005859,-0.005859)"/><text x="849.07" y="348.1">.2</text>
<path class="one" d="M763 0L583 0L583 1100Q518 1040 412 980Q296 918 195 886L195 1055Q360 1125 485 1222Q597 1318 644 1409L763 1409Z" transform="translate(884.94,348.1) scale(0.005859,-0.005859)"/><text x="891.61" y="348.1">.4</text>
<path class="one" d="M763 0L583 0L583 1100Q518 1040 412 980Q296 918 195 886L195 1055Q360 1125 485 1222Q597 1318 644 1409L763 1409Z" transform="translate(927.48,348.1) scale(0.005859,-0.005859)"/><text x="934.15" y="348.1">.6</text>
<path class="one" d="M763 0L583 0L583 1100Q518 1040 412 980Q296 918 195 886L195 1055Q360 1125 485 1222Q597 1318 644 1409L763 1409Z" transform="translate(970.02,348.1) scale(0.005859,-0.005859)"/><text x="976.69" y="348.1">.8</text>
<text x="1017.56" y="348.1">2</text>
<text x="584.73" y="200.1">5</text>
<text x="584.73" y="245.9">0</text>
<rect x="578.31" y="286.96" width="5.83" height="1.1"/><text x="584.73" y="291.7">5</text>
<rect x="571.64" y="332.76" width="5.83" height="1.1"/><path class="one" d="M763 0L583 0L583 1100Q518 1040 412 980Q296 918 195 886L195 1055Q360 1125 485 1222Q597 1318 644 1409L763 1409Z" transform="translate(578.05,337.5) scale(0.005859,-0.005859)"/><text x="584.73" y="337.5">0</text>
<text x="808.2" y="362.8" text-anchor="middle">t</text>
<text x="562.2" y="264.1" text-anchor="middle" transform="rotate(-90 562.2 264.1)">u(t)</text>
<rect x="610.5" y="302.5" width="43.0" height="20.0" fill="#fff" stroke="#666" stroke-width="1"/>
<text x="616.5" y="316.6" style="font-size:12.3px">q=</text><path class="one" d="M763 0L583 0L583 1100Q518 1040 412 980Q296 918 195 886L195 1055Q360 1125 485 1222Q597 1318 644 1409L763 1409Z" transform="translate(630.52,316.6) scale(0.006006,-0.006006)"/><text x="637.36" y="316.6" style="font-size:12.3px">.0</text>
</svg>
</body></html>
